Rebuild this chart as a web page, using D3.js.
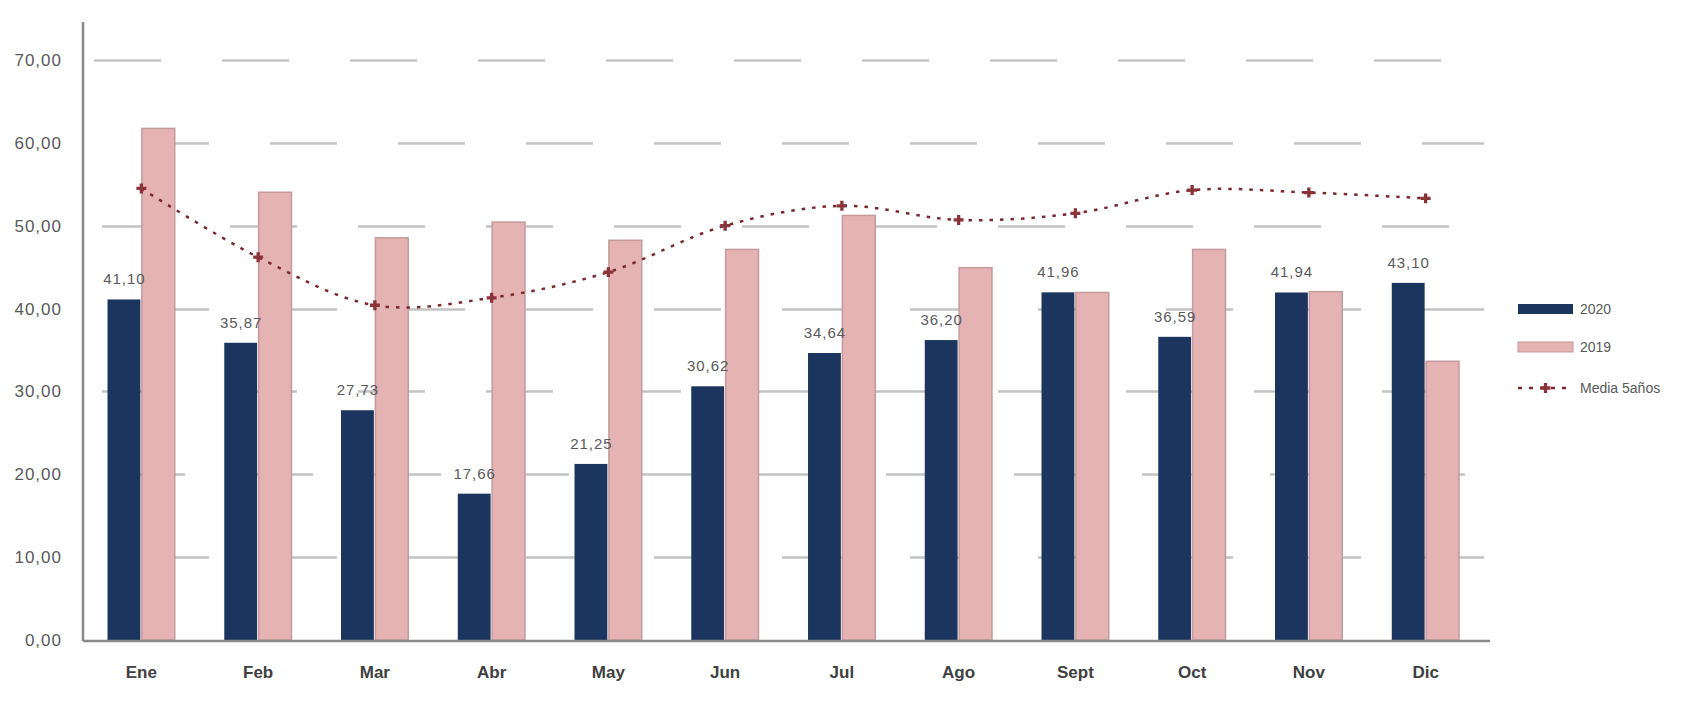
<!DOCTYPE html>
<html>
<head>
<meta charset="utf-8">
<script src="https://cdn.jsdelivr.net/npm/d3@7"></script>
<style>
  html, body { margin: 0; padding: 0; background: #fff; }
  svg { display: block; font-family: "Liberation Sans", Arial, sans-serif; }
</style>
</head>
<body>
<svg id="chart" width="1706" height="701"></svg>
<script>
// ---- data ----
const months = ["Ene","Feb","Mar","Abr","May","Jun","Jul","Ago","Sept","Oct","Nov","Dic"];
const values2020 = [41.10, 35.87, 27.73, 17.66, 21.25, 30.62, 34.64, 36.20, 41.96, 36.59, 41.94, 43.10];
const values2019 = [61.8, 54.1, 48.6, 50.5, 48.3, 47.2, 51.3, 45.0, 42.0, 47.2, 42.1, 33.7];
const media5 = [54.5, 46.2, 40.4, 41.3, 44.4, 50.0, 52.4, 50.7, 51.5, 54.3, 54.0, 53.3];
const yTicks = [0, 10, 20, 30, 40, 50, 60, 70];
const seriesNames = ["2020", "2019", "Media 5años"];

(function () {
// ---- styling / layout ----
const plotL = 83, plotR = 1484, plotT = 22, plotB = 640;
const cDark = "#1c355e", cPink = "#e5b3b3", cPinkEdge = "#c49a9c", cLine = "#7a2a2e";
const gridStart = {70: 94, 60: 142, 50: 102, 40: 142, 30: 102, 20: 118, 10: 142};

const es = d3.formatLocale({decimal: ",", thousands: ".", grouping: [3], currency: ["", "€"]});
const fmt = es.format(".2f");

const svg = d3.select("#chart");

const x = d3.scaleBand().domain(months).range([plotL, plotR]).paddingInner(0.42).paddingOuter(0.21);
const x1 = d3.scaleBand().domain(["2020", "2019"]).range([0, x.bandwidth()]).padding(0);
const y = d3.scaleLinear().domain([0, 70]).range([plotB, 60]);

// gridlines (dashed)
const period = 128;
svg.append("g").selectAll("line")
  .data(yTicks.filter(d => d > 0))
  .join("line")
  .attr("x1", plotL).attr("x2", plotR)
  .attr("y1", d => Math.round(y(d)) + 0.5).attr("y2", d => Math.round(y(d)) + 0.5)
  .attr("stroke", "#c3c3c3").attr("stroke-width", 2.5)
  .attr("stroke-dasharray", "67 61")
  .attr("stroke-dashoffset", d => (period - ((gridStart[d] - plotL) % period)) % period);

// bars
const groups = svg.append("g").selectAll("g")
  .data(months.map((m, i) => ({m, v20: values2020[i], v19: values2019[i]})))
  .join("g")
  .attr("transform", d => `translate(${x(d.m)},0)`);

groups.append("rect")
  .attr("x", x1("2020")).attr("width", x1.bandwidth() - 1)
  .attr("y", d => y(d.v20)).attr("height", d => y(0) - y(d.v20))
  .attr("fill", cDark);

groups.append("rect")
  .attr("x", x1("2019") + 0.5).attr("width", x1.bandwidth() - 1)
  .attr("y", d => y(d.v19) + 0.5).attr("height", d => y(0) - y(d.v19) - 0.5)
  .attr("fill", cPink).attr("stroke", cPinkEdge).attr("stroke-width", 1.5);

// data labels for 2020
groups.append("text")
  .attr("x", x1("2020") + x1.bandwidth() / 2)
  .attr("y", d => y(d.v20) - 15)
  .attr("text-anchor", "middle")
  .attr("font-size", 15).attr("letter-spacing", 1)
  .attr("fill", "#5a5a5a")
  .text(d => fmt(d.v20));

// media line
const cx = m => x(m) + x.bandwidth() / 2;
const line = d3.line().x((d, i) => cx(months[i])).y(d => y(d)).curve(d3.curveCatmullRom.alpha(0.5));
svg.append("path")
  .datum(media5)
  .attr("d", line)
  .attr("fill", "none").attr("stroke", cLine).attr("stroke-width", 2.5)
  .attr("stroke-dasharray", "3.5 7");

const marker = d3.symbol().type(d3.symbolCross).size(55);
svg.append("g").selectAll("path")
  .data(media5)
  .join("path")
  .attr("transform", (d, i) => `translate(${cx(months[i])},${y(d)})`)
  .attr("d", marker)
  .attr("fill", "#8a3338");

// axes lines
svg.append("line").attr("x1", plotL).attr("x2", plotL).attr("y1", plotT).attr("y2", plotB + 1)
  .attr("stroke", "#8a8a8a").attr("stroke-width", 2.5);
svg.append("line").attr("x1", plotL).attr("x2", plotR + 6).attr("y1", plotB + 1).attr("y2", plotB + 1)
  .attr("stroke", "#8a8a8a").attr("stroke-width", 2.5);

// y tick labels
svg.append("g").selectAll("text")
  .data(yTicks)
  .join("text")
  .attr("x", 62).attr("y", d => y(d))
  .attr("dy", "0.35em")
  .attr("text-anchor", "end")
  .attr("font-size", 17).attr("letter-spacing", 1)
  .attr("fill", "#595959")
  .text(d => fmt(d));

// x labels
svg.append("g").selectAll("text")
  .data(months)
  .join("text")
  .attr("x", d => x(d) + x.bandwidth() / 2)
  .attr("y", 678)
  .attr("text-anchor", "middle")
  .attr("font-size", 17).attr("font-weight", "bold")
  .attr("fill", "#404040")
  .text(d => d);

// legend
const lg = svg.append("g");
const lx = 1518, lw = 55, tx = 1580;
lg.append("rect").attr("x", lx).attr("y", 304).attr("width", lw).attr("height", 10).attr("fill", cDark);
lg.append("text").attr("x", tx).attr("y", 309).attr("dy", "0.35em").attr("font-size", 14)
  .attr("fill", "#595959").text(seriesNames[0]);
lg.append("rect").attr("x", lx).attr("y", 342).attr("width", lw).attr("height", 10)
  .attr("fill", cPink).attr("stroke", cPinkEdge).attr("stroke-width", 1);
lg.append("text").attr("x", tx).attr("y", 347).attr("dy", "0.35em").attr("font-size", 14)
  .attr("fill", "#595959").text(seriesNames[1]);
lg.append("line").attr("x1", lx).attr("x2", lx + lw).attr("y1", 388).attr("y2", 388)
  .attr("stroke", cLine).attr("stroke-width", 2.5).attr("stroke-dasharray", "4 7");
lg.append("path").attr("transform", `translate(${lx + lw / 2},388)`).attr("d", marker).attr("fill", "#8a3338");
lg.append("text").attr("x", tx).attr("y", 388).attr("dy", "0.35em").attr("font-size", 14)
  .attr("fill", "#595959").text(seriesNames[2]);
})();
</script>
</body>
</html>
